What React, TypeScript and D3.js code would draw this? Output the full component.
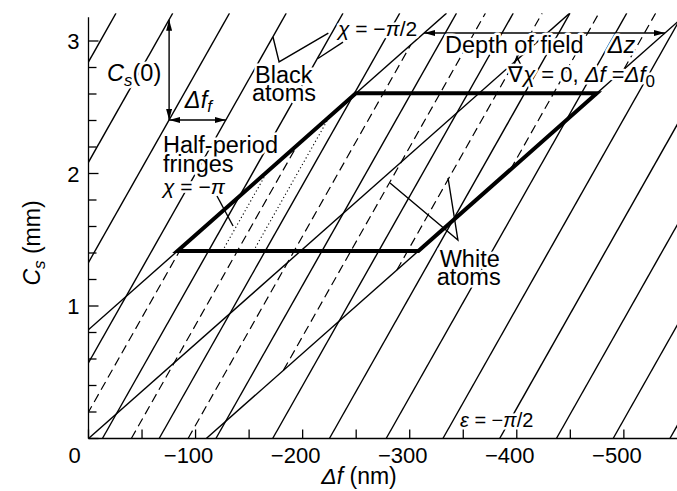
import * as d3 from "d3";
import React from "react";

// defocus (nm) where each line meets Cs = 0
const solidDf0 = [199, 146, 93, 40, -13, -66, -119, -172, -225, -278, -331, -384, -437, -490, -543];
const dashedDf0 = [14, -40, -93, -146, -199, -252, -305];
const dottedDf0 = [-26, -55];
const steepSlope = -70; // nm per mm
// boundary lines: left edge, middle, right edge
const boundDf0 = [115, 0, -110];
const boundSlope = -140;
const boxCs = [1.415, 2.605];

const xTickValues = [0, -50, -100, -150, -200, -250, -300, -350, -400, -450, -500];
const xTickLabels = [0, -100, -200, -300, -400, -500];
const yMajorTicks = [0, 1, 2, 3];
const yMinorTicks = [0.2, 0.4, 0.6, 0.8, 1.2, 1.4, 1.6, 1.8, 2.2, 2.4, 2.6, 2.8];

const W = 677;
const H = 491;
const x = d3.scaleLinear().domain([0, -550]).range([88.5, 677.4]);
const y = d3.scaleLinear().domain([0, 3]).range([438.5, 41]);
const csTop = 3.21;
const axisTop = 3.18;

const FONT = "'Liberation Sans', Arial, Helvetica, sans-serif";
const line = d3.line();

const dfAt = (df0, slope, cs) => df0 + slope * cs;
const seg = (df0, slope, c0, c1) =>
  line([
    [x(dfAt(df0, slope, c0)), y(c0)],
    [x(dfAt(df0, slope, c1)), y(c1)],
  ]);
// Cs where a steep line meets a boundary line
const meet = (df0, b0) => (b0 - df0) / (steepSlope - boundSlope);

const halo = {
  stroke: "#fff",
  strokeWidth: 5,
  strokeLinejoin: "round",
  paintOrder: "stroke",
} as React.CSSProperties;

const P = (df, cs) => [x(df), y(cs)] as [number, number];

export default function App() {
  const [left, mid, right] = boundDf0;
  const [cb, ct] = boxCs;

  const box = [
    P(dfAt(left, boundSlope, cb), cb),
    P(dfAt(right, boundSlope, cb), cb),
    P(dfAt(right, boundSlope, ct), ct),
    P(dfAt(left, boundSlope, ct), ct),
  ];

  // arrows
  const arrCs = 2.404;
  const dfA = dfAt(solidDf0[2], steepSlope, arrCs);
  const dfB = dfAt(solidDf0[3], steepSlope, arrCs);
  const csA = (dfA - solidDf0[1]) / steepSlope;
  const dozCs = 3.06;

  const lbl = { fontFamily: FONT, fill: "#000" };

  return (
    <svg width={W} height={H} viewBox={`0 0 ${W} ${H}`}
      style={{ display: "block", background: "#fff", position: "absolute", left: 0, top: 0 }}>
      <defs>
        <clipPath id="plot">
          <rect x={x(0)} y={y(csTop)} width={x(-550) - x(0)} height={y(0) - y(csTop)} />
        </clipPath>
        <marker id="ah" viewBox="0 0 10 10" refX="10" refY="5" markerWidth="11" markerHeight="6"
          orient="auto-start-reverse" markerUnits="userSpaceOnUse" preserveAspectRatio="none">
          <path d="M0,0 L10,5 L0,10 z" fill="#000" />
        </marker>
      </defs>
      <rect width={W} height={H} fill="#fff" />

      <g clipPath="url(#plot)" fill="none" stroke="#000">
        {solidDf0.map((d, i) => (
          <path key={"s" + i} d={seg(d, steepSlope, 0, csTop)} strokeWidth={1.4} />
        ))}
        {dashedDf0.map((d, i) => {
          const c0 = Math.max(0, meet(d, right));
          const c1 = Math.min(csTop, meet(d, left));
          if (c1 <= c0) return null;
          return <path key={"d" + i} d={seg(d, steepSlope, c0, c1)} strokeWidth={1.2} strokeDasharray="9,5" />;
        })}
        {dottedDf0.map((d, i) => (
          <path key={"o" + i} d={seg(d, steepSlope, cb, meet(d, left))} strokeWidth={1.1} strokeDasharray="1.2,2.6" />
        ))}
        {boundDf0.map((d, i) => (
          <path key={"b" + i} d={seg(d, boundSlope, 0, csTop)} strokeWidth={1.4} />
        ))}
        <path d={line(box) + "Z"} strokeWidth={4} strokeLinejoin="miter" />
      </g>

      {/* arrows */}
      <g stroke="#000" strokeWidth={1.4} fill="none">
        <path d={line([P(dfA, arrCs), P(dfA, csA)])} markerStart="url(#ah)" markerEnd="url(#ah)" />
        <path d={line([P(dfA, arrCs), P(dfB, arrCs)])} markerStart="url(#ah)" markerEnd="url(#ah)" />
        <path
          d={line([P(dfAt(left, boundSlope, dozCs), dozCs), P(dfAt(right, boundSlope, dozCs), dozCs)])}
          markerStart="url(#ah)" markerEnd="url(#ah)"
        />
        {/* pointers */}
        <path d={line([P(-172.3, 3.03), P(-178, 2.842), P(-224, 3.06)])} />
        <path d={line([P(-214.3, 2.868), P(-237.7, 2.992)])} />
        <path d={line([P(-120, 1.83), P(-135, 1.604)])} />
        <path d={line([P(-281.6, 1.928), P(-345, 1.498), P(-335.8, 1.966)])} />
        <path d={line([P(-395.5, 2.774), P(-400, 2.879), P(-406.7, 2.774)])} />
      </g>

      {/* labels */}
      <g style={halo} {...lbl} fontSize={23.5}>
        <text x={x(-17.3)} y={y(2.698)}>
          <tspan fontStyle="italic">C</tspan>
          <tspan fontStyle="italic" fontSize={17} dy={5}>s</tspan>
          <tspan dy={-5}>(0)</tspan>
        </text>
        <text x={x(-90)} y={y(2.494)}>
          <tspan fontStyle="italic">Δf</tspan>
          <tspan fontStyle="italic" fontSize={17} dy={4}>f</tspan>
        </text>
        <text x={x(-155.5)} y={y(2.683)}>Black</text>
        <text x={x(-152.7)} y={y(2.547)}>atoms</text>
        <text x={x(-69.6)} y={y(2.155)}>Half-period</text>
        <text x={x(-69.6)} y={y(2.011)}>fringes</text>
        <text x={x(-69.6)} y={y(1.845)} fontSize={21}>
          <tspan fontStyle="italic">χ</tspan> = −<tspan fontStyle="italic">π</tspan>
        </text>
        <text x={x(-233)} y={y(3.038)} fontSize={21}>
          <tspan fontStyle="italic">χ</tspan> = −<tspan fontStyle="italic">π</tspan>/2
        </text>
        <text x={x(-333)} y={y(2.909)}>Depth of field</text>
        <text x={x(-485)} y={y(2.909)} fontStyle="italic">Δz</text>
        <text x={x(-392)} y={y(2.691)} fontSize={22}>
          ∇<tspan fontStyle="italic">χ</tspan> = 0, <tspan fontStyle="italic">Δf</tspan> =
          <tspan fontStyle="italic">Δf</tspan>
          <tspan fontSize={17} dy={5}>0</tspan>
        </text>
        <text x={x(-328)} y={y(1.294)}>White</text>
        <text x={x(-325.2)} y={y(1.158)}>atoms</text>
        <text x={x(-347)} y={y(0.087)} fontSize={20}>
          <tspan fontStyle="italic">ε</tspan> = −<tspan fontStyle="italic">π</tspan>/2
        </text>
      </g>

      {/* axes */}
      <g stroke="#000" strokeWidth={1.3}>
        <line x1={x(0)} x2={x(0)} y1={y(0)} y2={y(axisTop)} />
        <line x1={x(0)} x2={x(-550)} y1={y(0)} y2={y(0)} />
        {yMajorTicks.map((t) => (
          <line key={"ym" + t} x1={x(0)} x2={x(0) + 10} y1={y(t)} y2={y(t)} />
        ))}
        {yMinorTicks.map((t) => (
          <line key={"yn" + t} x1={x(0)} x2={x(0) + 8} y1={y(t)} y2={y(t)} />
        ))}
        {xTickValues.map((t) => (
          <line key={"xt" + t} x1={x(t)} x2={x(t)} y1={y(0)} y2={y(0) - 9} />
        ))}
      </g>
      <g {...lbl} fontSize={22}>
        {yMajorTicks.filter((t) => t > 0).map((t) => (
          <text key={"yl" + t} x={x(0) - 9} y={y(t) + 8} textAnchor="end">{t}</text>
        ))}
        {xTickLabels.map((t) => (
          <text key={"xl" + t} x={x(t) - (t === 0 ? 14 : 7)} y={y(0) + 24} textAnchor="middle">
            {t === 0 ? "0" : "−" + Math.abs(t)}
          </text>
        ))}
        <text x={359} y={484} textAnchor="middle" fontSize={23}>
          <tspan fontStyle="italic">Δf</tspan> (nm)
        </text>
        <text transform="translate(40,243) rotate(-90)" textAnchor="middle" fontSize={23}>
          <tspan fontStyle="italic">C</tspan>
          <tspan fontStyle="italic" fontSize={17} dy={5}>s</tspan>
          <tspan dy={-5}> (mm)</tspan>
        </text>
      </g>
    </svg>
  );
}
